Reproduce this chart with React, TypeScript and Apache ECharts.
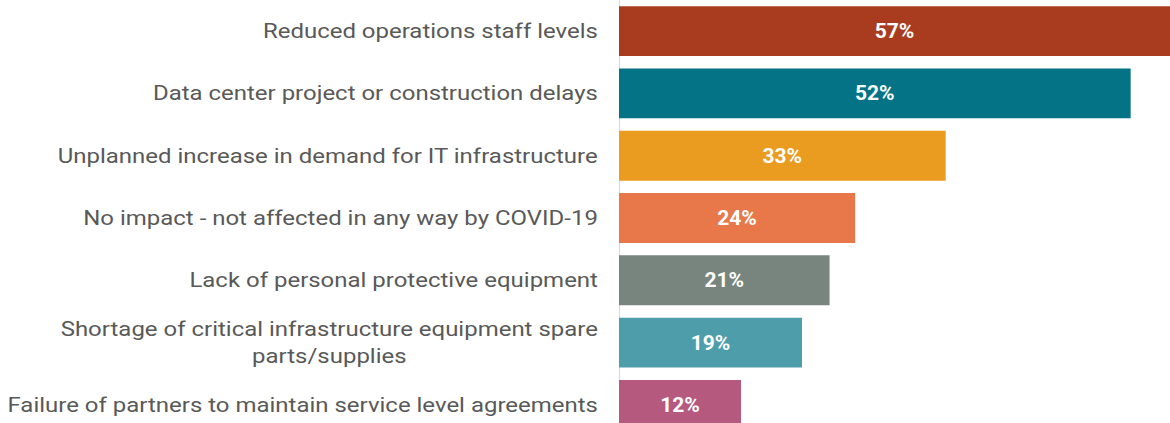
import React, { useEffect, useRef } from "react";
import * as echarts from "echarts";

const categories = [
  "Reduced operations staff levels",
  "Data center project or construction delays",
  "Unplanned increase in demand for IT infrastructure",
  "No impact - not affected in any way by COVID-19",
  "Lack of personal protective equipment",
  "Shortage of critical infrastructure equipment spare\nparts/supplies",
  "Failure of partners to maintain service level agreements",
];
const values = [57, 52.0, 33.2, 24.0, 21.4, 18.6, 12.4];
const colors = ["#A93C1E", "#037385", "#E99C20", "#E8784A", "#78857E", "#4E9DAA", "#B5597E"];

const AXIS_X = 619;
const LABEL_GAP = 21;
const LABEL_SCALE_X = 1.142;

export default function App() {
  const ref = useRef<HTMLDivElement>(null);
  useEffect(() => {
    if (!ref.current) return;
    const chart = echarts.init(ref.current, undefined, { renderer: "svg" });
    chart.setOption({
      animation: false,
      grid: { left: AXIS_X, right: 0, top: 0, bottom: 0, containLabel: false },
      xAxis: {
        type: "value",
        min: 0,
        max: 56,
        show: false,
        splitLine: { show: false },
      },
      yAxis: {
        type: "category",
        inverse: true,
        data: categories,
        axisLine: { show: true, lineStyle: { color: "#D9D9D9", width: 1 } },
        axisTick: { show: false },
        axisLabel: { show: false },
      },
      series: [
        {
          type: "bar",
          data: values.map((v, i) => ({ value: v, itemStyle: { color: colors[i] } })),
          barCategoryGap: "20%",
          clip: true,
          label: {
            show: true,
            position: "inside",
            formatter: (p: any) => `${Math.round(p.value)}%`,
            color: "#FFFFFF",
            fontFamily: "Roboto",
            fontWeight: "bold",
            fontSize: 21,
          },
        },
      ],
    });
    const labels = categories.map((c) => {
      const y = chart.convertToPixel({ yAxisIndex: 0 }, c) as number;
      return {
        type: "text",
        x: AXIS_X - LABEL_GAP,
        y,
        scaleX: LABEL_SCALE_X,
        silent: true,
        style: {
          text: c
            .split("\n")
            .map((l) => `{c|${l}}`)
            .join("\n"),
          align: "right",
          verticalAlign: "middle",
          fill: "#595959",
          font: "21px Roboto",
          lineHeight: 27,
          rich: {
            c: {
              align: "center",
              fill: "#595959",
              fontFamily: "Roboto",
              fontSize: 21,
              lineHeight: 27,
            },
          },
        },
      };
    });
    chart.setOption({ graphic: labels });
    return () => chart.dispose();
  }, []);
  return (
    <div
      ref={ref}
      style={{ position: "fixed", left: 0, top: 0, width: 1170, height: 436, background: "#fff" }}
    />
  );
}
